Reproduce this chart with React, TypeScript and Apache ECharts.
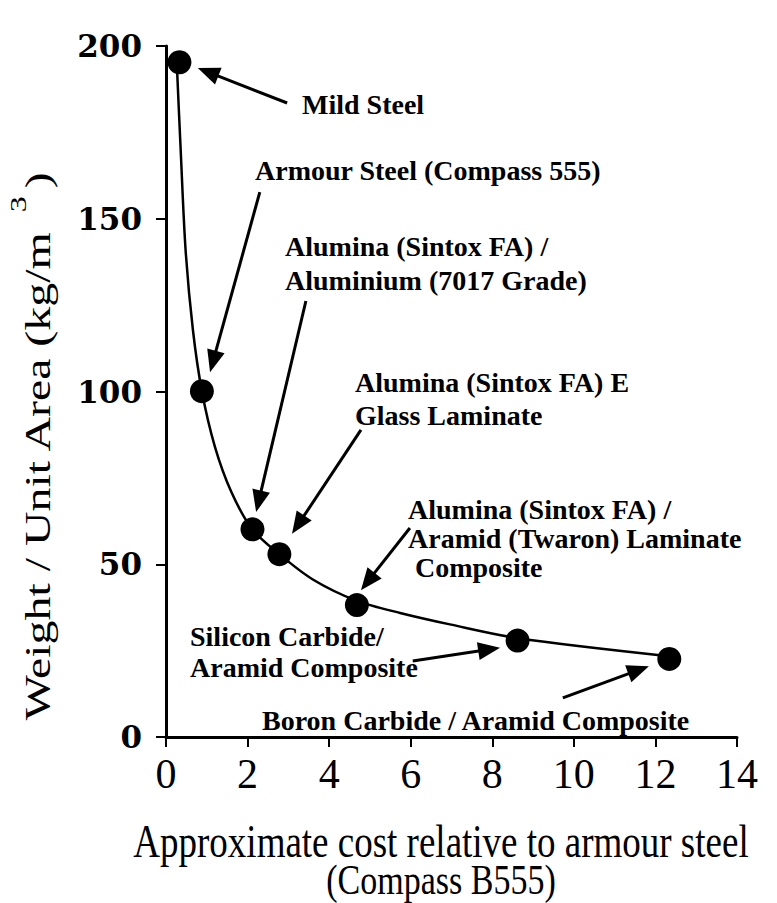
import React, { useEffect, useRef } from "react";
import * as echarts from "echarts";

// Armour materials: cost relative to armour steel vs weight per unit area
const materials = [
  "Mild Steel",
  "Armour Steel (Compass 555)",
  "Alumina (Sintox FA) / Aluminium (7017 Grade)",
  "Alumina (Sintox FA) E Glass Laminate",
  "Alumina (Sintox FA) / Aramid (Twaron) Laminate Composite",
  "Silicon Carbide/ Aramid Composite",
  "Boron Carbide / Aramid Composite",
];
const relativeCost = [0.33, 0.88, 2.12, 2.78, 4.68, 8.62, 12.34];
const weightPerArea = [195.3, 100.1, 60.1, 52.9, 38.2, 27.9, 22.6];

// Trend line drawn through the materials
const trendCost = [0.27, 0.36, 0.48, 0.66, 0.88, 1.2, 1.6, 2.11, 2.77, 3.6, 4.68, 5.74, 6.96, 8.63, 12.33];
const trendWeight = [193.5, 169.9, 141.0, 117.8, 100.1, 84.0, 71.0, 60.2, 53.0, 45.6, 39.4, 35.9, 32.6, 28.6, 23.4];

// Annotation arrows: tail (cost, weight) -> head (cost, weight)
const arrowTailCost = [2.97, 2.3, 3.43, 4.78, 5.98, 6.05, 9.73];
const arrowTailWeight = [183.5, 157.7, 126.2, 88.9, 60.5, 22.0, 11.3];
const arrowHeadCost = [0.78, 1.08, 2.21, 3.09, 4.78, 8.19, 11.84];
const arrowHeadWeight = [193.6, 105.6, 65.1, 58.8, 42.5, 25.8, 20.5];

// Annotation text lines
const labelLines = [
  ["Mild Steel"],
  ["Armour Steel (Compass 555)"],
  ["Alumina (Sintox FA) /", "Aluminium (7017 Grade)"],
  ["Alumina (Sintox FA) E", "Glass Laminate"],
  ["Alumina (Sintox FA) /", "Aramid (Twaron) Laminate", " Composite"],
  ["Silicon Carbide/", "Aramid Composite"],
  ["Boron Carbide / Aramid Composite"],
];

const xTitle = ["Approximate cost relative to armour steel", "(Compass B555)"];
const yTitle = ["Weight / Unit Area (kg/m", "3", ")"];

// layout of annotation text blocks: left, top, line height (px)
const labelLayout = [
  [302, 88, 32],
  [255, 154, 32],
  [285, 229, 34],
  [355, 366, 33],
  [408, 495, 29],
  [190, 621, 31],
  [262, 704, 32],
];

const SERIF = "'Liberation Serif', 'Times New Roman', Times, serif";
const WIDE_SERIF = "'DejaVu Serif', serif";

export default function App() {
  const ref = useRef<HTMLDivElement>(null);

  useEffect(() => {
    if (!ref.current) return;
    const chart = echarts.init(ref.current, null, { renderer: "svg" });

    const arrowData = arrowTailCost.map((c, i) => [
      c,
      arrowTailWeight[i],
      arrowHeadCost[i],
      arrowHeadWeight[i],
    ]);

    const labelGraphics = labelLines.map((lines, i) => ({
      type: "text",
      left: labelLayout[i][0],
      top: labelLayout[i][1],
      style: {
        text: lines.join("\n"),
        fontFamily: SERIF,
        fontWeight: "bold",
        fontSize: 28,
        fill: "#000",
        lineHeight: labelLayout[i][2],
      },
    }));

    chart.setOption({
      animation: false,
      backgroundColor: "#fff",
      grid: { left: 166, right: 40, top: 46, bottom: 166 },
      xAxis: {
        type: "value",
        min: 0,
        max: 14,
        interval: 2,
        axisLine: { show: true, lineStyle: { color: "#000", width: 3 } },
        axisTick: { show: true, inside: false, length: 10, lineStyle: { color: "#000", width: 2 } },
        axisLabel: {
          color: "#000",
          fontFamily: SERIF,
          fontSize: 42,
          margin: 16,
        },
        splitLine: { show: false },
      },
      yAxis: {
        type: "value",
        min: 0,
        max: 200,
        interval: 50,
        axisLine: { show: true, lineStyle: { color: "#000", width: 3 } },
        axisTick: { show: true, inside: false, length: 10, lineStyle: { color: "#000", width: 2 } },
        axisLabel: {
          color: "#000",
          fontFamily: WIDE_SERIF,
          fontWeight: "bold",
          fontSize: 31,
          margin: 24,
        },
        splitLine: { show: false },
      },
      series: [
        {
          type: "line",
          data: trendCost.map((c, i) => [c, trendWeight[i]]),
          smooth: 0.3,
          showSymbol: false,
          symbol: "none",
          lineStyle: { color: "#000", width: 2.5 },
          z: 2,
        },
        {
          type: "scatter",
          data: relativeCost.map((c, i) => [c, weightPerArea[i], materials[i]]),
          symbol: "circle",
          symbolSize: 24,
          itemStyle: { color: "#000", opacity: 1 },
          z: 3,
        },
        {
          type: "custom",
          data: arrowData,
          encode: { x: [0, 2], y: [1, 3] },
          z: 4,
          renderItem: (_params: any, api: any) => {
            const a = api.coord([api.value(0), api.value(1)]);
            const b = api.coord([api.value(2), api.value(3)]);
            const dx = b[0] - a[0];
            const dy = b[1] - a[1];
            const len = Math.sqrt(dx * dx + dy * dy) || 1;
            const ux = dx / len;
            const uy = dy / len;
            const headLen = 22;
            const headHalf = 9;
            const bx = b[0] - ux * headLen;
            const by = b[1] - uy * headLen;
            return {
              type: "group",
              children: [
                {
                  type: "line",
                  shape: { x1: a[0], y1: a[1], x2: bx + ux * 2, y2: by + uy * 2 },
                  style: { stroke: "#000", lineWidth: 3 },
                },
                {
                  type: "polygon",
                  shape: {
                    points: [
                      [b[0], b[1]],
                      [bx - uy * headHalf, by + ux * headHalf],
                      [bx + uy * headHalf, by - ux * headHalf],
                    ],
                  },
                  style: { fill: "#000" },
                },
              ],
            };
          },
        },
      ],
      graphic: [
        ...labelGraphics,
        {
          type: "text",
          x: 441,
          y: 842,
          scaleY: 1.25,
          style: {
            text: xTitle[0],
            fontFamily: SERIF,
            fontSize: 37,
            fill: "#000",
            align: "center",
            verticalAlign: "middle",
          },
        },
        {
          type: "text",
          x: 441,
          y: 880,
          scaleY: 1.25,
          style: {
            text: xTitle[1],
            fontFamily: SERIF,
            fontSize: 34,
            fill: "#000",
            align: "center",
            verticalAlign: "middle",
          },
        },
        {
          // vertical axis title, read bottom to top, with a superscript 3
          type: "group",
          x: 38,
          y: 445,
          rotation: Math.PI / 2,
          scaleX: 1.33,
          children: [
            {
              type: "text",
              x: -207,
              y: 0,
              style: {
                text: yTitle[0],
                fontFamily: SERIF,
                fontSize: 36,
                fill: "#000",
                align: "left",
                verticalAlign: "middle",
              },
            },
            {
              type: "text",
              x: 175,
              y: -20,
              style: {
                text: yTitle[1],
                fontFamily: SERIF,
                fontSize: 24,
                fill: "#000",
                align: "left",
                verticalAlign: "middle",
              },
            },
            {
              type: "text",
              x: 193,
              y: 0,
              style: {
                text: yTitle[2],
                fontFamily: SERIF,
                fontSize: 36,
                fill: "#000",
                align: "left",
                verticalAlign: "middle",
              },
            },
          ],
        },
      ],
    });

    return () => chart.dispose();
  }, []);

  return (
    <div
      ref={ref}
      style={{ position: "fixed", left: 0, top: 0, width: 777, height: 903, background: "#fff" }}
    />
  );
}
